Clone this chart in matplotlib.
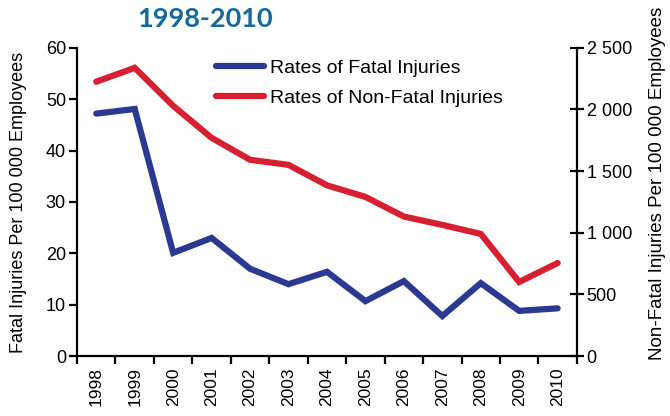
import matplotlib.pyplot as plt
from matplotlib.ticker import FuncFormatter

plt.rcParams['font.family'] = ['Liberation Sans', 'DejaVu Sans']

years = ['1998', '1999', '2000', '2001', '2002', '2003', '2004',
         '2005', '2006', '2007', '2008', '2009', '2010']
fatal = [47.2, 48.1, 20.1, 23.0, 17.0, 14.0, 16.4, 10.7, 14.6, 7.8, 14.2, 8.8, 9.3]
non_fatal = [2225, 2338, 2030, 1770, 1592, 1551, 1385, 1291, 1132, 1064, 991, 601, 755]

blue = '#2b3990'
red = '#d71f32'

fig = plt.figure(figsize=(6.7, 4.16), dpi=100)
ax = fig.add_axes([0.115, 0.144, 0.746, 0.741])
ax2 = ax.twinx()

x = list(range(len(years)))
l1, = ax.plot(x, fatal, color=blue, lw=4.5, solid_capstyle='round',
              solid_joinstyle='miter', label='Rates of Fatal Injuries')
l2, = ax2.plot(x, non_fatal, color=red, lw=4.5, solid_capstyle='round',
               solid_joinstyle='miter', label='Rates of Non-Fatal Injuries')

ax.set_xlim(-0.5, len(years) - 0.5)
ax.set_ylim(0, 60)
ax2.set_ylim(0, 2500)
ax.set_yticks(range(0, 61, 10))
ax2.set_yticks(range(0, 2501, 500))
ax2.yaxis.set_major_formatter(FuncFormatter(lambda v, p: f'{int(v):,}'.replace(',', ' ')))

# year labels sit between the boundary ticks
ax.set_xticks([i - 0.5 for i in range(len(years) + 1)])
ax.set_xticklabels([])
ax.set_xticks(x, minor=True)
ax.set_xticklabels(years, minor=True, rotation=90, fontsize=12.5)
ax.tick_params(axis='x', which='minor', length=0, pad=8)
ax.tick_params(axis='x', which='major', length=6, width=1.6, direction='out')
ax.tick_params(axis='y', length=6, width=1.6, direction='out', labelsize=13, pad=2)
ax2.tick_params(axis='y', length=10, width=1.6, direction='inout', labelsize=13, pad=2)

for a in (ax, ax2):
    a.spines['top'].set_visible(False)
    for s in ('left', 'right', 'bottom'):
        a.spines[s].set_linewidth(1.6)
ax.spines['right'].set_visible(False)
ax2.spines['left'].set_visible(False)
ax2.spines['bottom'].set_visible(False)

ax.set_ylabel('Fatal Injuries Per 100 000 Employees', fontsize=13)
ax2.set_ylabel('Non-Fatal Injuries Per 100 000 Employees', fontsize=13.5)
ax.yaxis.set_label_coords(-0.1, 0.5)
ax2.yaxis.set_label_coords(1.145, 0.56)

fig.text(0.306, 0.955, '1998-2010', fontsize=19.5, fontweight='bold',
         color='#17699a', family='Lato', ha='center', va='center')

fig.legend(handles=[l1, l2], loc='upper left', bbox_to_anchor=(0.296, 0.9),
           frameon=False, fontsize=14, handlelength=2.5, labelspacing=0.66,
           handletextpad=0.3)

fig.savefig('out.png', dpi=100)
